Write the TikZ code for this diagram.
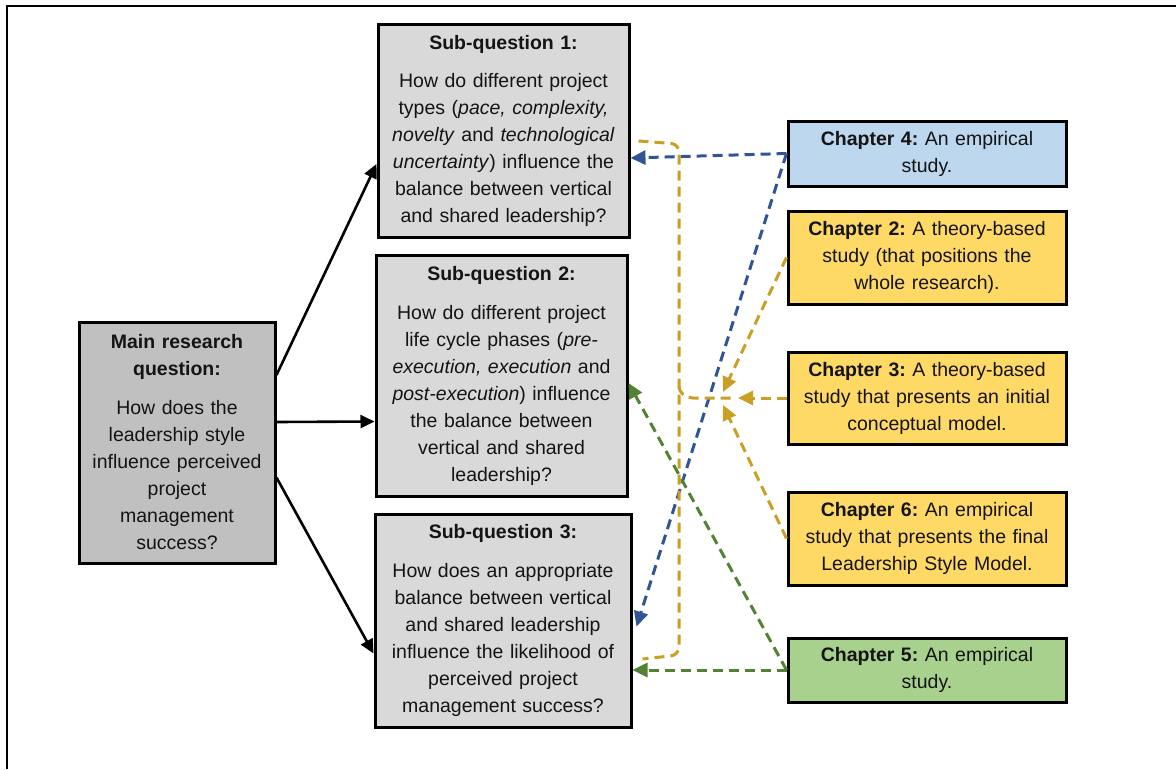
\documentclass[tikz,border=0pt]{standalone}
\usepackage{fontspec}
\setmainfont{Liberation Sans}
\usetikzlibrary{arrows.meta,calc}
\definecolor{boxgray}{RGB}{192,192,192}
\definecolor{subgray}{RGB}{217,217,217}
\definecolor{chblue}{RGB}{189,215,238}
\definecolor{chgold}{RGB}{255,217,102}
\definecolor{chgreen}{RGB}{169,209,142}
\definecolor{lnblue}{RGB}{47,85,151}
\definecolor{lngold}{RGB}{201,160,35}
\definecolor{lngreen}{RGB}{84,130,53}
\begin{document}
\frenchspacing
\begin{tikzpicture}[x=1pt,y=-1pt,
  every node/.style={font=\fontsize{19.5}{27}\selectfont, text=black!92},
  qbox/.style={draw=black, line width=3pt, inner sep=0pt, align=center},
  blk/.style={line width=2.6pt, -{Triangle[length=14pt,width=13pt]}},
  dsh/.style={line width=3pt, dash pattern=on 10pt off 6pt},
  tipped/.style={-{Triangle[length=15pt,width=14pt]}}]
\useasboundingbox (0,0) rectangle (1176,769);

% outer frame (top and left edges)
\draw[line width=2.4pt] (7,769) -- (7,6) -- (1176,6);

% main question
\node[qbox, fill=boxgray, minimum width=196pt, minimum height=241pt, text width=190pt] (main) at (177,442.5)
  {\textbf{Main research}\\\textbf{question:}\\[12pt]How does the\\leadership style\\influence perceived\\project\\management\\success?};

% sub-questions
\node[qbox, fill=subgray, minimum width=251pt, minimum height=213pt, text width=245pt] (sq1) at (503.5,130.5)
  {\textbf{Sub-question 1:}\\[11pt]How do different project\\types (\textit{pace, complexity,}\\\textit{novelty} and \textit{technological}\\\textit{uncertainty}) influence the\\balance between vertical\\and shared leadership?};
\node[qbox, fill=subgray, minimum width=251pt, minimum height=241pt, text width=245pt] (sq2) at (501.5,375.5)
  {\textbf{Sub-question 2:}\\[12pt]How do different project\\life cycle phases (\textit{pre-}\\\textit{execution, execution} and\\\textit{post-execution}) influence\\the balance between\\vertical and shared\\leadership?};
\node[qbox, fill=subgray, minimum width=256pt, minimum height=213pt, text width=250pt] (sq3) at (503,620.5)
  {\textbf{Sub-question 3:}\\[12pt]How does an appropriate\\balance between vertical\\and shared leadership\\influence the likelihood of\\perceived project\\management success?};

% chapters
\node[qbox, fill=chblue, minimum width=278pt, minimum height=65pt, text width=270pt] (ch4) at (927,153.5)
  {\textbf{Chapter 4:} An empirical\\study.};
\node[qbox, fill=chgold, minimum width=278pt, minimum height=93pt, text width=270pt] (ch2) at (927,257.5)
  {\textbf{Chapter 2:} A theory-based\\study (that positions the\\whole research).};
\node[qbox, fill=chgold, minimum width=278pt, minimum height=92pt, text width=270pt] (ch3) at (927,398)
  {\textbf{Chapter 3:} A theory-based\\study that presents an initial\\conceptual model.};
\node[qbox, fill=chgold, minimum width=278pt, minimum height=93pt, text width=270pt] (ch6) at (927,538.5)
  {\textbf{Chapter 6:} An empirical\\study that presents the final\\Leadership Style Model.};
\node[qbox, fill=chgreen, minimum width=278pt, minimum height=64pt, text width=270pt] (ch5) at (927,670)
  {\textbf{Chapter 5:} An empirical\\study.};

% main question to sub-questions
\draw[blk] ([yshift=67.5pt]main.east) -- ([yshift=-33.5pt]sq1.west);
\draw[blk] ([yshift=20.5pt]main.east) -- ([yshift=-46pt]sq2.west);
\draw[blk] ([yshift=-35pt]main.east) -- ([yshift=-33pt]sq3.west);

% chapter 4
\draw[dsh, lnblue, tipped] (ch4.west) -- ([yshift=-27.5pt]sq1.east);
\draw[dsh, lnblue, tipped] (ch4.west) -- ([xshift=4pt,yshift=-6pt]sq3.east);

% chapter 5
\draw[dsh, lngreen, tipped] (ch5.west) -- (sq3.east |- ch5.west);
\draw[dsh, lngreen, tipped] (ch5.west) -- ([yshift=-7.5pt]sq2.east);

% chapters 2, 3 and 6 joined into one bracket
\coordinate (hub) at (722,398);
\coordinate (bt) at (679,144);
\coordinate (bb) at (679,655);
\coordinate (jn) at (679,386);
\draw[dsh, lngold, rounded corners=8pt] ([xshift=8pt,yshift=-10.5pt]sq1.east) -- (bt) -- (bb) -- ([xshift=10pt,yshift=-38.5pt]sq3.east);
\draw[dsh, lngold] (jn) to[out=-90,in=180] ($(jn)+(14,12)$) -- ($(hub)+(14,0)$);
\draw[dsh, lngold, tipped] (ch3.west) -- ($(hub)+(16,0)$);
\draw[dsh, lngold, tipped] (ch2.west) -- ($(hub)+(1,-6)$);
\draw[dsh, lngold, tipped] (ch6.west) -- ($(hub)+(1,7)$);
\end{tikzpicture}
\end{document}
